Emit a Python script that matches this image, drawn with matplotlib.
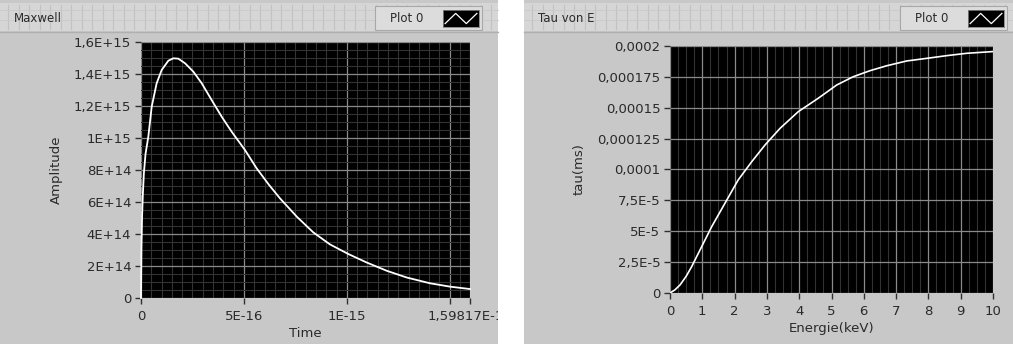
import matplotlib.pyplot as plt
import numpy as np
from matplotlib.patches import Rectangle
from matplotlib.transforms import Bbox, TransformedBbox
from matplotlib.ticker import MultipleLocator

# Maxwell panel
time_vals = [0.0, 0.002e-15, 0.005e-15, 0.009e-15, 0.014e-15, 0.022e-15, 0.0355e-15,
             0.052e-15, 0.076e-15, 0.1005e-15, 0.1328e-15, 0.157e-15, 0.181e-15,
             0.214e-15, 0.254e-15, 0.295e-15, 0.343e-15, 0.392e-15, 0.44e-15,
             0.505e-15, 0.562e-15, 0.62e-15, 0.675e-15, 0.757e-15, 0.837e-15,
             0.918e-15, 1.007e-15, 1.096e-15, 1.194e-15, 1.291e-15, 1.404e-15,
             1.501e-15, 1.59817e-15]
amp_vals = [0.0, 0.3e15, 0.5e15, 0.65e15, 0.78e15, 0.9e15, 1.008e15,
            1.196e15, 1.342e15, 1.425e15, 1.483e15, 1.498e15, 1.496e15,
            1.467e15, 1.415e15, 1.342e15, 1.2375e15, 1.133e15, 1.04e15,
            0.925e15, 0.81e15, 0.71e15, 0.623e15, 0.508e15, 0.41e15,
            0.335e15, 0.275e15, 0.222e15, 0.17e15, 0.128e15, 0.092e15,
            0.071e15, 0.056e15]
time_ticks = [0, 5e-16, 1e-15, 1.5e-15, 1.59817e-15]
time_labels = ['0', '5E-16', '1E-15', '', '1,59817E-15']
amp_ticks = [0, 2e14, 4e14, 6e14, 8e14, 1e15, 1.2e15, 1.4e15, 1.6e15]
amp_labels = ['0', '2E+14', '4E+14', '6E+14', '8E+14', '1E+15', '1,2E+15', '1,4E+15', '1,6E+15']

# Tau von E panel
energy = [0.0, 0.15, 0.31, 0.5, 0.67, 0.98, 1.29, 1.70, 2.11, 2.53, 2.94, 3.41, 3.97,
          4.59, 5.16, 5.67, 6.19, 6.71, 7.33, 7.95, 8.57, 9.19, 10.0]
tau = [0.0, 2.5e-6, 6.5e-6, 13.5e-6, 21.3e-6, 37.5e-6, 53.7e-6, 72.6e-6, 91.5e-6,
       106.3e-6, 119.8e-6, 133.4e-6, 146.8e-6, 157.7e-6, 168.4e-6, 175.1e-6,
       180e-6, 184e-6, 187.9e-6, 190e-6, 192.2e-6, 194.1e-6, 195.5e-6]
energy_ticks = list(range(0, 11))
tau_ticks = [0, 2.5e-5, 5e-5, 7.5e-5, 1e-4, 1.25e-4, 1.5e-4, 1.75e-4, 2e-4]
tau_labels = ['0', '2,5E-5', '5E-5', '7,5E-5', '0,0001', '0,000125', '0,00015', '0,000175', '0,0002']

W, H = 1013, 344
PANEL = '#c8c8c8'
STRIP = '#d6d6d6'
TXT = '#2a2a2a'
FS = 9.5

fig = plt.figure(figsize=(W / 100, H / 100), dpi=100)
fig.patch.set_facecolor('white')


def px(x0, y0, x1, y1):
    # pixel box (top-left origin) -> figure fraction [l, b, w, h]
    return [x0 / W, 1 - y1 / H, (x1 - x0) / W, (y1 - y0) / H]


def panel(x0, x1, title, legend_x):
    l, b, w, h = px(x0, 0, x1, H)
    fig.patches.append(Rectangle((l, b), w, h, transform=fig.transFigure,
                                 facecolor=PANEL, edgecolor='none', zorder=-3))
    # title strip with the faint grid texture
    l, b, w, h = px(x0, 3, x1, 31)
    fig.patches.append(Rectangle((l, b), w, h, transform=fig.transFigure,
                                 facecolor=STRIP, edgecolor='none', zorder=-2))
    for xx in np.arange(x0 + 8, x1, 10.5):
        fig.add_artist(plt.Line2D([xx / W, xx / W], [1 - 5 / H, 1 - 29 / H],
                                  color='#c2c2c2', lw=0.8, zorder=-1))
    for yy in (10, 20):
        fig.add_artist(plt.Line2D([x0 / W, x1 / W], [1 - yy / H, 1 - yy / H],
                                  color='#cacaca', lw=0.6, zorder=-1))
    fig.add_artist(plt.Line2D([x0 / W, x1 / W], [1 - 32 / H, 1 - 32 / H],
                              color='#b0b0b0', lw=1, zorder=-1))
    fig.text((x0 + 14) / W, 1 - 18 / H, title, fontsize=8.5, color=TXT,
             va='center', ha='left', zorder=3)
    # legend box
    l, b, w, h = px(legend_x, 6, legend_x + 107, 30)
    fig.patches.append(Rectangle((l, b), w, h, transform=fig.transFigure,
                                 facecolor='#dcdcdc', edgecolor='#a8a8a8',
                                 lw=0.8, zorder=-0.5))
    fig.text((legend_x + 15) / W, 1 - 18 / H, 'Plot 0', fontsize=8.5, color=TXT,
             va='center', ha='left', zorder=3)
    ic = fig.add_axes(px(legend_x + 68, 10, legend_x + 104, 27))
    ic.set_zorder(5)
    ic.set_facecolor('black')
    ic.plot([0, 1, 2, 3], [0.2, 0.8, 0.2, 0.8], color='white', lw=0.9)
    ic.set_xlim(-0.2, 3.2)
    ic.set_ylim(0, 1)
    ic.set_xticks([])
    ic.set_yticks([])
    for s in ic.spines.values():
        s.set_color('#808080')
        s.set_linewidth(0.6)


def style(ax):
    ax.set_facecolor('black')
    for s in ax.spines.values():
        s.set_visible(False)
    ax.tick_params(axis='both', which='major', direction='out', length=4.5,
                   width=1, color='#303030', labelcolor=TXT, labelsize=FS, pad=2.5)
    ax.tick_params(axis='x', which='major', pad=4)
    ax.tick_params(axis='both', which='minor', length=0)


panel(0, 498, 'Maxwell', 375)
panel(524, 1013, 'Tau von E', 900)

# --- left chart
ax1 = fig.add_axes(px(141, 42, 470, 298))
style(ax1)
ax1.set_xlim(0, 1.59817e-15)
ax1.set_ylim(0, 1.6e15)
ax1.xaxis.set_minor_locator(MultipleLocator(5e-17))
ax1.yaxis.set_minor_locator(MultipleLocator(5e13))
ax1.grid(True, which='minor', color='#333333', lw=0.8)
ax1.grid(True, which='major', color='#8a8a8a', lw=0.9)
ax1.set_xticks(time_ticks)
ax1.set_xticklabels(time_labels)
ax1.set_yticks(amp_ticks)
ax1.set_yticklabels(amp_labels)
ax1.set_axisbelow(True)
ax1.plot(time_vals, amp_vals, color='white', lw=1.3, clip_on=False, zorder=3)
ax1.set_xlabel('Time', fontsize=FS, color=TXT, labelpad=3)
ax1.set_ylabel('Amplitude', fontsize=FS, color=TXT, labelpad=8)
# last label is cut by the panel edge
clip = TransformedBbox(Bbox([[0, 0], [498 / W, 1]]), fig.transFigure)
for t in ax1.get_xticklabels():
    t.set_clip_box(clip)
    t.set_clip_on(True)

# --- right chart
ax2 = fig.add_axes(px(670, 46, 993, 293))
style(ax2)
ax2.set_xlim(0, 10)
ax2.set_ylim(0, 2e-4)
ax2.xaxis.set_minor_locator(MultipleLocator(0.25))
ax2.grid(True, which='minor', axis='x', color='#333333', lw=0.8)
ax2.grid(True, which='major', color='#8a8a8a', lw=0.9)
ax2.set_xticks(energy_ticks)
ax2.set_yticks(tau_ticks)
ax2.set_yticklabels(tau_labels)
ax2.set_axisbelow(True)
ax2.plot(energy, tau, color='white', lw=1.2, zorder=3)
ax2.set_xlabel('Energie(keV)', fontsize=FS, color=TXT, labelpad=3)
ax2.set_ylabel('tau(ms)', fontsize=FS, color=TXT, labelpad=8)

fig.savefig('out.png', dpi=100, facecolor=fig.get_facecolor())
